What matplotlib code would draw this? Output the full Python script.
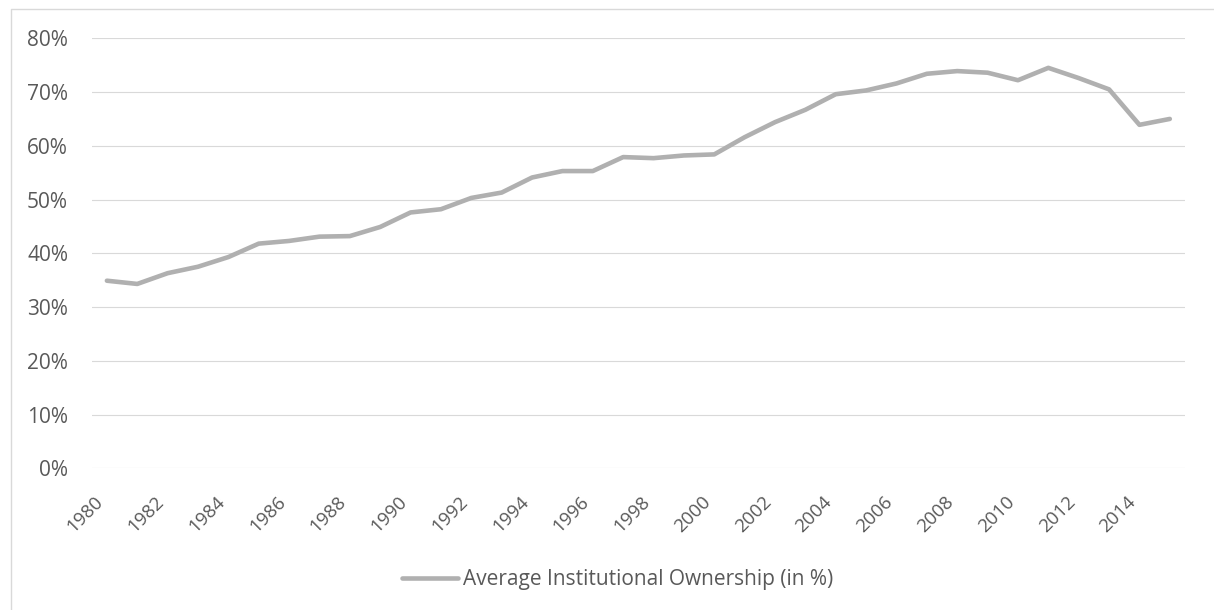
#!/usr/bin/env python3
"""
Average institutional ownership, 1980-2015 (Excel-style line chart).

Writes out.png (1214x610).
"""

import matplotlib
matplotlib.use("Agg")
import matplotlib.pyplot as plt
import matplotlib.transforms as mtransforms
from matplotlib.lines import Line2D
from matplotlib.ticker import FuncFormatter

years = list(range(1980, 2016))
ownership = [
    0.349, 0.343, 0.363, 0.375, 0.393, 0.418, 0.423, 0.431, 0.432, 0.449,
    0.476, 0.482, 0.503, 0.513, 0.541, 0.553, 0.553, 0.579, 0.577, 0.582,
    0.584, 0.616, 0.644, 0.667, 0.696, 0.703, 0.716, 0.734, 0.739, 0.736,
    0.722, 0.745, 0.726, 0.705, 0.639, 0.650,
]
series_label = "Average Institutional Ownership (in %)"
y_ticks = [0.0, 0.1, 0.2, 0.3, 0.4, 0.5, 0.6, 0.7, 0.8]

LINE_COLOR = "#B0B0B0"
GRID_COLOR = "#D9D9D9"
TEXT_COLOR = "#595959"
FONT = "Open Sans"
FONT_SIZE = 15
XLABEL_SIZE = 13.5  # Open Sans runs wider than the original face
W, H = 1214, 610


def main():
    fig = plt.figure(figsize=(W / 100, H / 100), dpi=100)
    # plot area in pixel terms, converted to figure fractions
    left, right, top, bottom = 91.7, 1185, 38.3, 468.3
    ax = fig.add_axes([left / W, 1 - bottom / H,
                       (right - left) / W, (bottom - top) / H])

    x = list(range(len(years)))
    line, = ax.plot(x, ownership, color=LINE_COLOR, linewidth=3.3,
                    solid_capstyle="round", solid_joinstyle="round",
                    label=series_label, zorder=3)

    ax.set_xlim(-0.5, len(years) - 0.5)
    ax.set_ylim(0, 0.8)
    ax.set_yticks(y_ticks)
    ax.yaxis.set_major_formatter(FuncFormatter(lambda v, _: f"{v * 100:.0f}%"))
    ax.grid(True, axis="y", color=GRID_COLOR, linewidth=0.8, zorder=0)
    ax.set_axisbelow(True)

    # only every other year gets a label, like the original
    label_idx = list(range(0, len(years), 2))
    ax.set_xticks(label_idx)
    ax.set_xticklabels([str(years[i]) for i in label_idx],
                       rotation=45, ha="right")
    shift = mtransforms.ScaledTranslation(4 / 100, 0, fig.dpi_scale_trans)
    for lab in ax.get_xticklabels():
        lab.set_transform(lab.get_transform() + shift)

    ax.tick_params(axis="x", length=0, pad=17.5, labelsize=XLABEL_SIZE,
                   labelcolor=TEXT_COLOR)
    ax.tick_params(axis="y", length=0, pad=17, labelsize=FONT_SIZE,
                   labelcolor=TEXT_COLOR)
    for lab in ax.get_xticklabels() + ax.get_yticklabels():
        lab.set_fontfamily(FONT)
    for spine in ax.spines.values():
        spine.set_visible(False)

    leg = fig.legend(handles=[line], loc="center",
                     bbox_to_anchor=(617.5 / W, 1 - 580 / H),
                     frameon=False, handlelength=2.7, handletextpad=0.2,
                     prop={"family": FONT, "size": FONT_SIZE})
    for t in leg.get_texts():
        t.set_color(TEXT_COLOR)

    # chart-area border (runs off the right and bottom edges)
    bx, by = 10.5 / W, 1 - 9 / H
    fig.add_artist(Line2D([bx, bx, 1.01], [-0.01, by, by],
                          transform=fig.transFigure, color=GRID_COLOR,
                          linewidth=1.0))

    fig.savefig("out.png", dpi=100)


if __name__ == "__main__":
    main()
